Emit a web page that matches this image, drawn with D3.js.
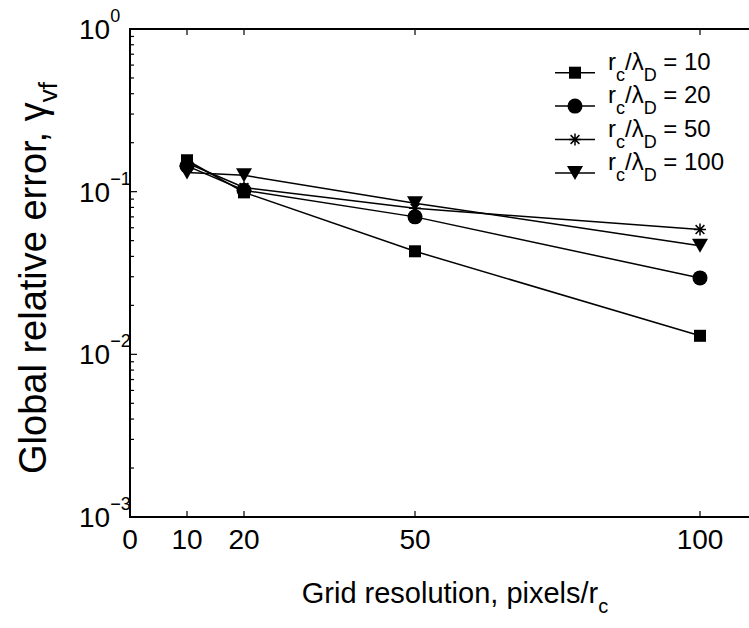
<!DOCTYPE html>
<html>
<head>
<meta charset="utf-8">
<script src="https://cdn.jsdelivr.net/npm/d3@7"></script>
<style>
  body { margin: 0; background: #fff; }
  svg { display: block; }
  text { font-family: "Liberation Sans", Arial, sans-serif; fill: #000; }
</style>
</head>
<body>
<svg id="chart" width="749" height="628"></svg>
<script>
// grid resolution (pixels / r_c)
const resolutions = [10, 20, 50, 100];
// r_c / lambda_D values, one series each
const seriesNames = ["10", "20", "50", "100"];
const errRatio10  = [0.156, 0.099, 0.043, 0.013];
const errRatio20  = [0.144, 0.102, 0.070, 0.0295];
const errRatio50  = [0.150, 0.106, 0.079, 0.0585];
const errRatio100 = [0.131, 0.126, 0.085, 0.0465];
const xTicks = [0, 10, 20, 50, 100];
const yTicks = [1e-3, 1e-2, 1e-1, 1];
const yExponents = ["\u22123", "\u22122", "\u22121", "0"];

const series = [errRatio10, errRatio20, errRatio50, errRatio100];
const markerKinds = ["square", "circle", "star", "triangle"];

const svg = d3.select("#chart");
const x = d3.scaleLinear().domain([0, 110]).range([130, 757]);
const y = d3.scaleLog().domain([1e-3, 1]).range([517, 29]);

svg.append("rect").attr("width", 749).attr("height", 628).attr("fill", "#fff");

function marker(g, kind, cx, cy) {
    if (kind === "square") {
        g.append("rect").attr("x", cx - 6).attr("y", cy - 6)
            .attr("width", 12).attr("height", 12).attr("fill", "#000");
    } else if (kind === "circle") {
        g.append("circle").attr("cx", cx).attr("cy", cy).attr("r", 7.5).attr("fill", "#000");
    } else if (kind === "triangle") {
        g.append("path")
            .attr("d", `M${cx - 8},${cy - 7}L${cx + 8},${cy - 7}L${cx},${cy + 7}Z`)
            .attr("fill", "#000");
    } else {
        const r = 6, d = 4.4;
        g.append("path")
            .attr("d", `M${cx},${cy - r}V${cy + r}M${cx - r},${cy}H${cx + r}` +
                `M${cx - d},${cy - d}L${cx + d},${cy + d}M${cx - d},${cy + d}L${cx + d},${cy - d}`)
            .attr("stroke", "#000").attr("stroke-width", 1.5).attr("fill", "none");
    }
}

// data lines and markers
const line = d3.line().x((d, i) => x(resolutions[i])).y(d => y(d));
const plot = svg.append("g");
series.forEach(vals => {
    plot.append("path").datum(vals).attr("d", line)
        .attr("fill", "none").attr("stroke", "#000").attr("stroke-width", 1.5);
});
series.forEach((vals, s) => {
    vals.forEach((v, i) => marker(plot, markerKinds[s], x(resolutions[i]), y(v)));
});

// axes frame
const x0 = x.range()[0], x1 = x.range()[1], y0 = y.range()[0], y1 = y.range()[1];
const frame = svg.append("g").attr("stroke", "#000").attr("stroke-width", 2).attr("fill", "none");
frame.append("rect").attr("x", x0).attr("y", y1).attr("width", x1 - x0).attr("height", y0 - y1);

xTicks.filter(t => t > 0).forEach(t => {
    frame.append("line").attr("x1", x(t)).attr("x2", x(t)).attr("y1", y0).attr("y2", y0 - 6).attr("stroke-width", 1.2);
    frame.append("line").attr("x1", x(t)).attr("x2", x(t)).attr("y1", y1).attr("y2", y1 + 6).attr("stroke-width", 1.2);
});
svg.selectAll(".xlab").data(xTicks).join("text")
    .attr("x", d => x(d)).attr("y", 549)
    .attr("text-anchor", "middle").attr("font-size", 28)
    .text(d => d);

// log ticks
const minor = [];
yTicks.slice(0, -1).forEach(t => { for (let k = 2; k <= 9; k++) minor.push(t * k); });
minor.forEach(t => {
    frame.append("line").attr("x1", x0).attr("x2", x0 + 4).attr("y1", y(t)).attr("y2", y(t)).attr("stroke-width", 1.2);
});
yTicks.forEach(t => {
    frame.append("line").attr("x1", x0).attr("x2", x0 + 7).attr("y1", y(t)).attr("y2", y(t)).attr("stroke-width", 1.2);
});
yTicks.forEach((t, i) => {
    const lab = svg.append("text").attr("x", 79).attr("y", y(t) + 10).attr("font-size", 28);
    lab.append("tspan").text("10");
    lab.append("tspan").attr("dy", -17).attr("font-size", 18).text(yExponents[i]);
});

// axis labels
const xl = svg.append("text").attr("x", 455).attr("y", 603).attr("text-anchor", "middle").attr("font-size", 29);
xl.append("tspan").text("Grid resolution, pixels/r");
xl.append("tspan").attr("dy", 10).attr("font-size", 20).text("c");

const yl = svg.append("text").attr("transform", "translate(46,278) rotate(-90)")
    .attr("text-anchor", "middle").attr("font-size", 38);
yl.append("tspan").text("Global relative error, \u03b3");
yl.append("tspan").attr("dy", 11).attr("font-size", 26).text("vf");

// legend
const legend = svg.append("g");
seriesNames.forEach((name, s) => {
    const ly = 72.7 + s * 33.4;
    legend.append("line").attr("x1", 555).attr("x2", 595).attr("y1", ly).attr("y2", ly)
        .attr("stroke", "#000").attr("stroke-width", 1.5);
    marker(legend, markerKinds[s], 575, ly);
    const t = legend.append("text").attr("x", 608).attr("y", ly - 3).attr("font-size", 24);
    t.append("tspan").text("r");
    t.append("tspan").attr("dy", 11).attr("font-size", 18).text("c");
    t.append("tspan").attr("dy", -11).text("/\u03bb");
    t.append("tspan").attr("dy", 11).attr("font-size", 18).text("D");
    t.append("tspan").attr("dy", -11).text(" = " + name);
});
</script>
</body>
</html>
